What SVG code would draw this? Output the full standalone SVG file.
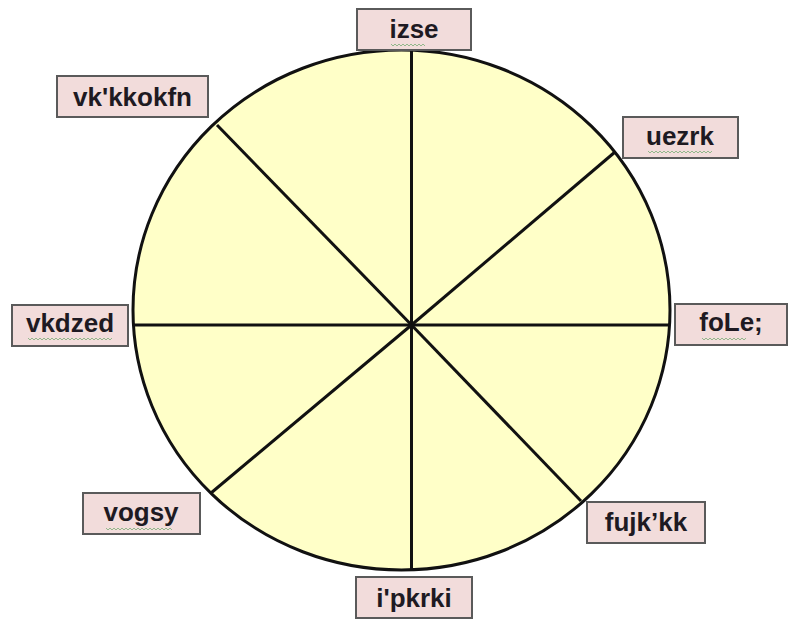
<svg xmlns="http://www.w3.org/2000/svg" width="789" height="619" viewBox="0 0 789 619">
<style>
.wheel{fill:#ffffc8;stroke:#111;stroke-width:3}
.spoke{stroke:#111;stroke-width:3;fill:none}
.box{fill:#f2dcdb;stroke:#5a5a5a;stroke-width:2}
.lbl{font-family:"Liberation Sans",Arial,sans-serif;font-weight:bold;font-size:26px;fill:#1e1a22;text-anchor:middle}
.sq{fill:none;stroke:#6aa86a;stroke-width:1;opacity:0.7}
</style>
<rect width="789" height="619" fill="#ffffff"/>
<g id="wheel">
<ellipse class="wheel" cx="401.5" cy="310" rx="268.5" ry="260"/>
</g>
<g id="connectors">
<line class="spoke" x1="411.5" y1="50" x2="411.5" y2="570"/>
<line class="spoke" x1="133.5" y1="325" x2="669.5" y2="325"/>
<line class="spoke" x1="411.5" y1="325" x2="217" y2="125"/>
<line class="spoke" x1="411.5" y1="325" x2="615" y2="152"/>
<line class="spoke" x1="411.5" y1="325" x2="581" y2="501"/>
<line class="spoke" x1="411.5" y1="325" x2="211" y2="493"/>
</g>
<g id="node-izse">
<rect class="box" x="357" y="9" width="114" height="41"/>
<text class="lbl" x="414" y="38">izse</text>
<path class="sq" d="M391 44 l2 2 l2 -2 l2 2 l2 -2 l2 2 l2 -2 l2 2 l2 -2 l2 2 l2 -2 l2 2 l2 -2 l2 2 l2 -2 l2 2 l2 -2 l2 2"/>
</g>
<g id="node-vkkkokfn">
<rect class="box" x="57" y="76" width="151" height="41"/>
<text class="lbl" x="132.5" y="106">vk'kkokfn</text>
</g>
<g id="node-uezrk">
<rect class="box" x="623" y="117" width="115" height="41"/>
<text class="lbl" x="680" y="145">uezrk</text>
<path class="sq" d="M648 151 l2 2 l2 -2 l2 2 l2 -2 l2 2 l2 -2 l2 2 l2 -2 l2 2 l2 -2 l2 2 l2 -2 l2 2 l2 -2 l2 2 l2 -2 l2 2 l2 -2 l2 2 l2 -2 l2 2 l2 -2 l2 2 l2 -2 l2 2 l2 -2 l2 2 l2 -2 l2 2 l2 -2 l2 2 l2 -2"/>
</g>
<g id="node-vkdzed">
<rect class="box" x="12" y="305" width="116" height="41"/>
<text class="lbl" x="70" y="332">vkdzed</text>
<path class="sq" d="M28 338 l2 2 l2 -2 l2 2 l2 -2 l2 2 l2 -2 l2 2 l2 -2 l2 2 l2 -2 l2 2 l2 -2 l2 2 l2 -2 l2 2 l2 -2 l2 2 l2 -2 l2 2 l2 -2 l2 2 l2 -2 l2 2 l2 -2 l2 2 l2 -2 l2 2 l2 -2 l2 2 l2 -2 l2 2 l2 -2 l2 2 l2 -2 l2 2 l2 -2 l2 2 l2 -2 l2 2 l2 -2 l2 2 l2 -2"/>
</g>
<g id="node-foLe">
<rect class="box" x="675" y="304" width="112" height="41"/>
<text class="lbl" x="731" y="331">foLe;</text>
<path class="sq" d="M702 338 l2 2 l2 -2 l2 2 l2 -2 l2 2 l2 -2 l2 2 l2 -2 l2 2 l2 -2 l2 2 l2 -2 l2 2 l2 -2 l2 2 l2 -2 l2 2 l2 -2 l2 2 l2 -2 l2 2 l2 -2"/>
</g>
<g id="node-vogsy">
<rect class="box" x="83" y="493" width="117" height="41"/>
<text class="lbl" x="141" y="521">vogsy</text>
<path class="sq" d="M106 528 l2 2 l2 -2 l2 2 l2 -2 l2 2 l2 -2 l2 2 l2 -2 l2 2 l2 -2 l2 2 l2 -2 l2 2 l2 -2 l2 2 l2 -2 l2 2 l2 -2 l2 2 l2 -2 l2 2 l2 -2 l2 2 l2 -2 l2 2 l2 -2 l2 2 l2 -2 l2 2 l2 -2 l2 2 l2 -2 l2 2"/>
</g>
<g id="node-fujkkk">
<rect class="box" x="587" y="502" width="118" height="41"/>
<text class="lbl" x="646" y="531">fujk’kk</text>
</g>
<g id="node-ipkrki">
<rect class="box" x="356" y="577" width="116" height="41"/>
<text class="lbl" x="414" y="607">i'pkrki</text>
</g>
</svg>
